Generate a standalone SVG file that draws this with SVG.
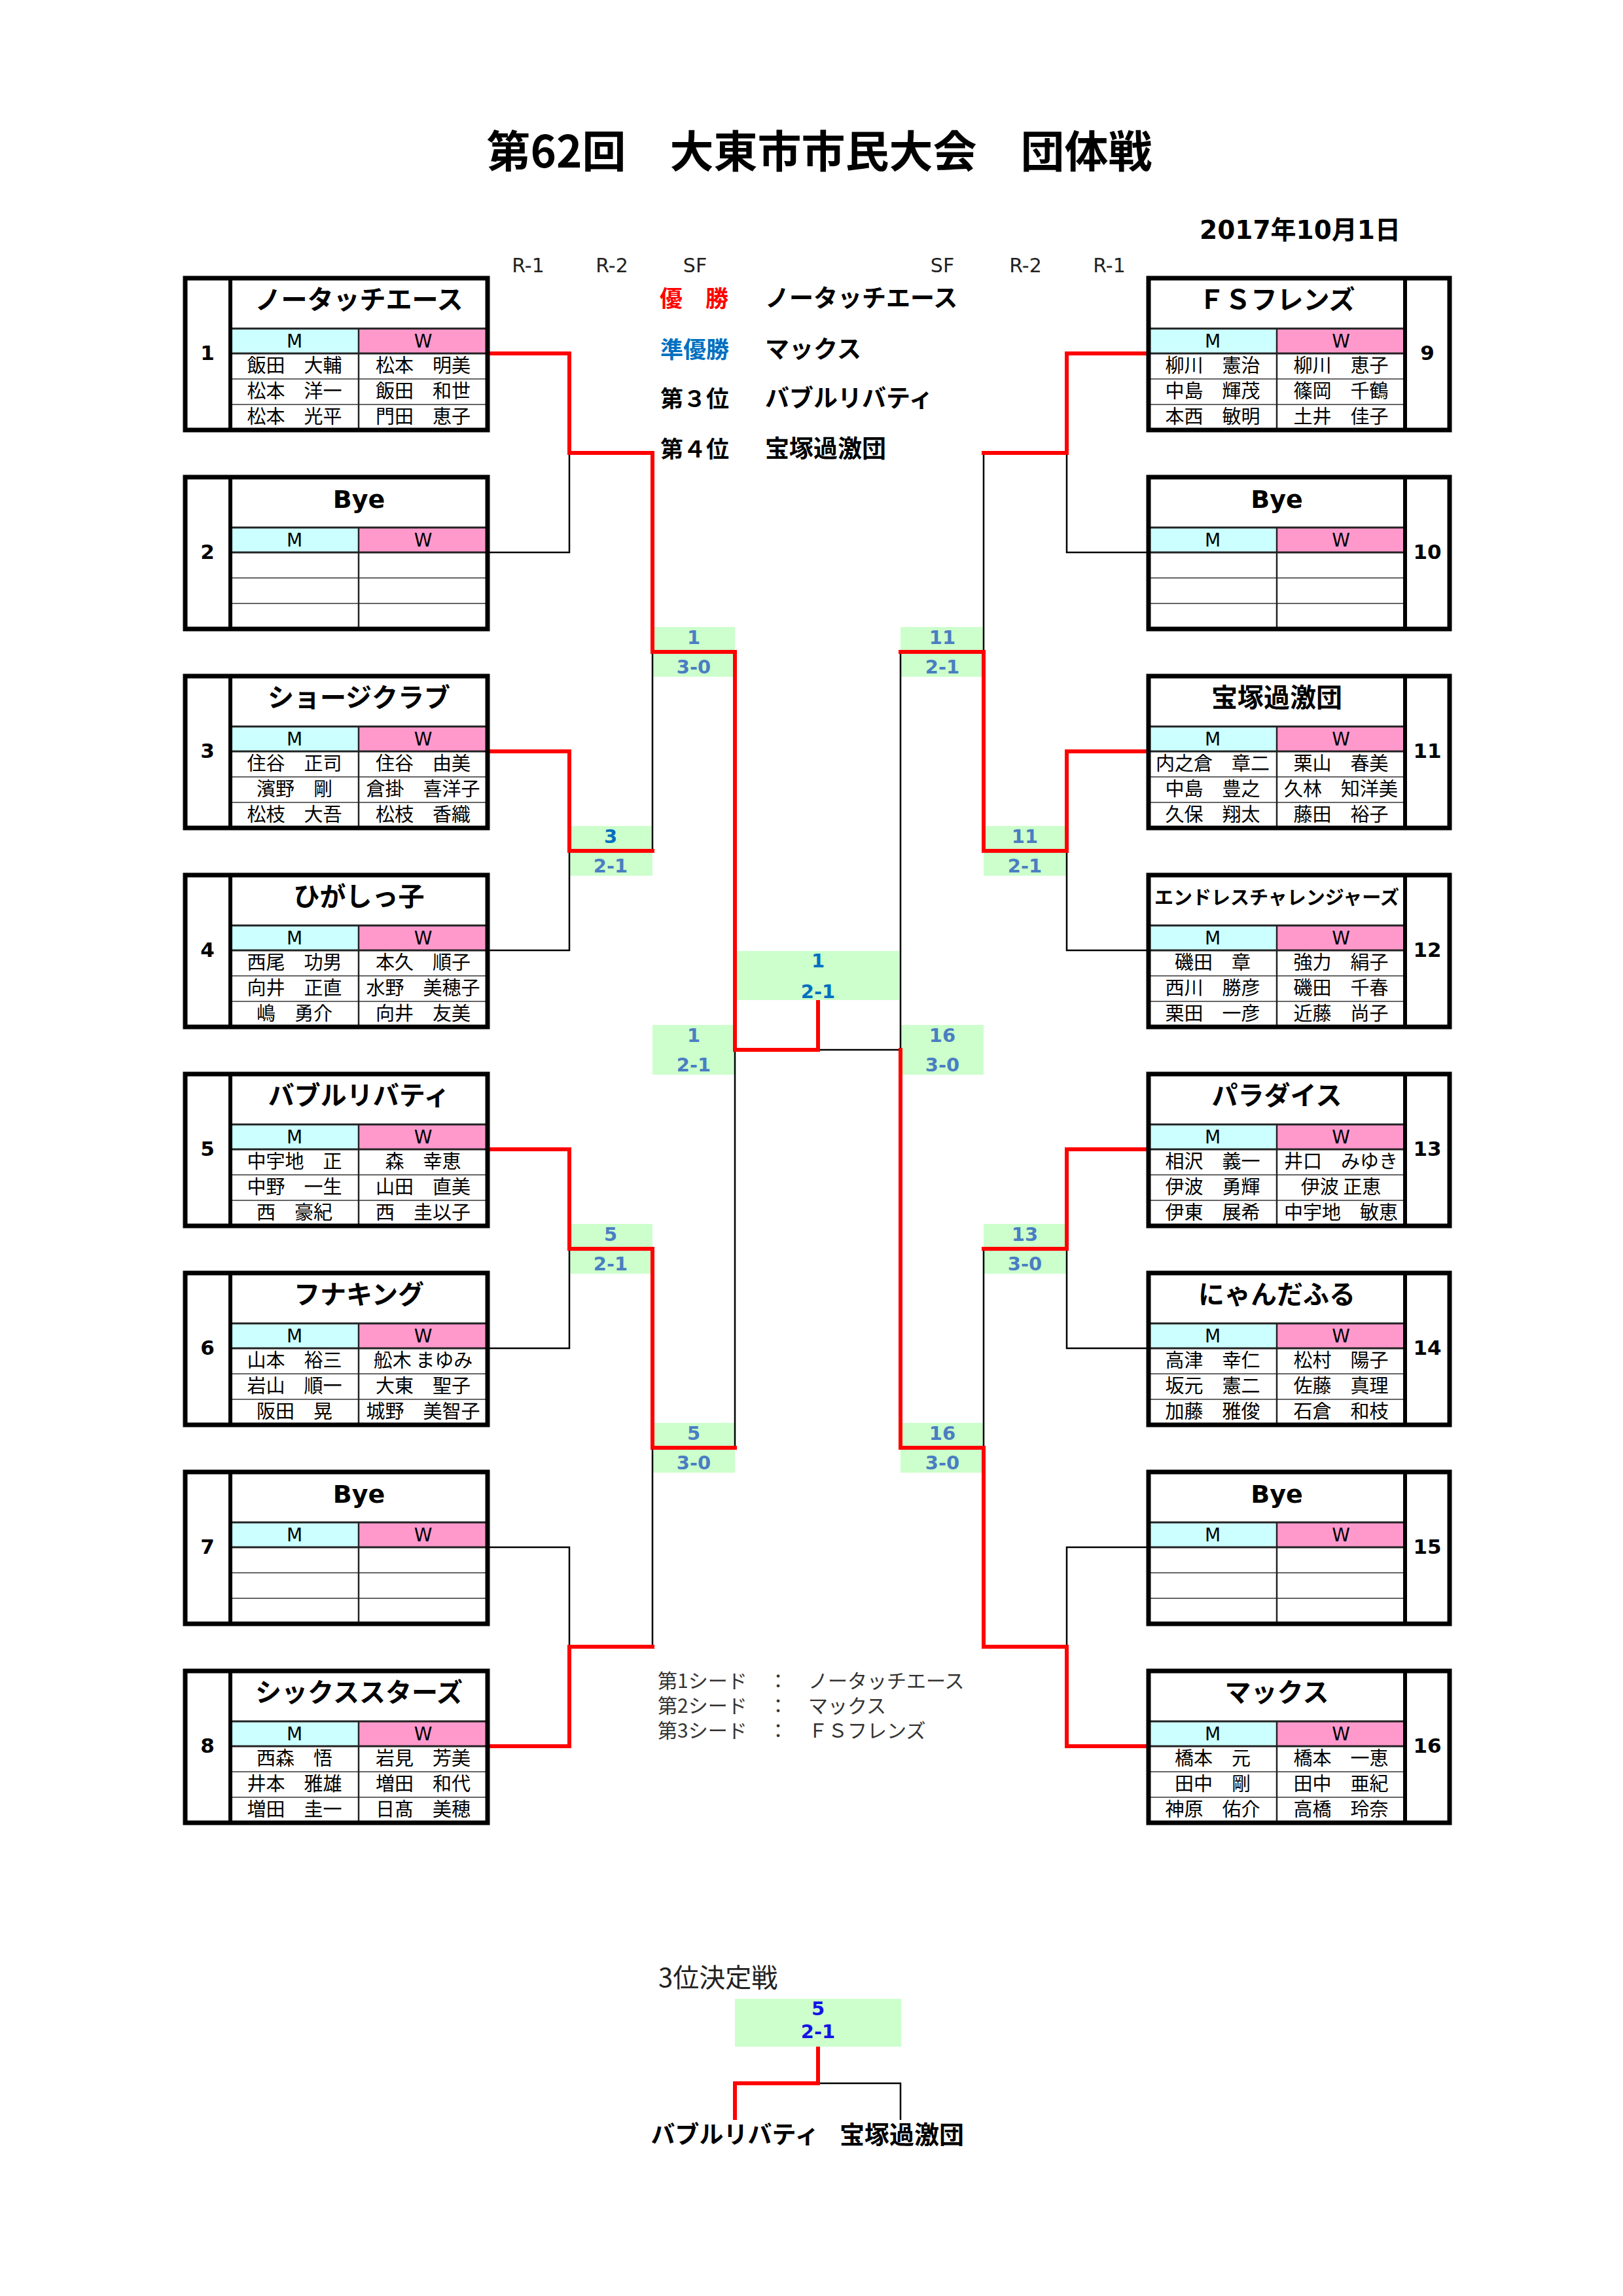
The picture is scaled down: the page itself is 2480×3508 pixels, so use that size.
<svg xmlns="http://www.w3.org/2000/svg" xmlns:xlink="http://www.w3.org/1999/xlink" width="2480" height="3508" viewBox="0 0 2480 3508">
<style>
.bg{fill:#fff}
.frame{fill:none;stroke:#000;stroke-width:7}
.numcol{stroke:#000;stroke-width:6}
.hline{stroke:#222;stroke-width:3}
.rline{stroke:#333;stroke-width:1.5}
.vdiv{stroke:#222;stroke-width:2.5}
.mh{fill:#ccffff}
.wh{fill:#ff99cc}
.ttl{font-family:"Noto Sans CJK JP",sans-serif;font-weight:700;font-size:40px;text-anchor:middle;fill:#000}
.ttls{font-family:"Noto Sans CJK JP",sans-serif;font-weight:700;font-size:29px;text-anchor:middle;fill:#000}
.bye{font-family:"DejaVu Sans","Noto Sans CJK JP",sans-serif;font-weight:700;font-size:38px;text-anchor:middle;fill:#000}
.num{font-family:"DejaVu Sans","Noto Sans CJK JP",sans-serif;font-weight:700;font-size:31px;text-anchor:middle;fill:#000}
.mw{font-family:"DejaVu Sans",sans-serif;font-size:28px;text-anchor:middle;fill:#000}
.nm{font-family:"Noto Sans CJK JP",sans-serif;font-size:29px;text-anchor:middle;fill:#000}
.sc{font-family:"DejaVu Sans",sans-serif;font-weight:700;font-size:29px;text-anchor:middle;fill:#4a7ec2}
.scf{font-family:"DejaVu Sans",sans-serif;font-weight:700;font-size:29px;text-anchor:middle;fill:#0070c0}
.sc3{font-family:"DejaVu Sans",sans-serif;font-weight:700;font-size:29px;text-anchor:middle;fill:#1414e6}
.sbox{fill:#ccffcc}
.blk{fill:none;stroke:#000;stroke-width:2.5}
.red{fill:none;stroke:#ff0000;stroke-width:6;stroke-linecap:square}
.rnd{font-family:"DejaVu Sans",sans-serif;font-size:30px;text-anchor:middle;fill:#222}
.res{font-family:"Noto Sans CJK JP",sans-serif;font-weight:700;font-size:35px;fill:#000}
.resn{font-family:"Noto Sans CJK JP",sans-serif;font-weight:700;font-size:37px;fill:#000}
.leg{font-family:"Noto Sans CJK JP",sans-serif;font-size:30px;fill:#333}
</style>
<defs>
<g id="frameL">
<rect x="0" y="0" width="462" height="232" fill="#fff"/>
<rect class="mh" x="69" y="77" width="196" height="38"/>
<rect class="wh" x="265" y="77" width="197" height="38"/>
<line class="rline" x1="69" y1="154" x2="462" y2="154"/>
<line class="rline" x1="69" y1="193" x2="462" y2="193"/>
<line class="vdiv" x1="265" y1="77" x2="265" y2="232"/>
<line class="hline" x1="69" y1="77" x2="462" y2="77"/>
<line class="hline" x1="69" y1="115" x2="462" y2="115"/>
<line class="numcol" x1="69" y1="0" x2="69" y2="232"/>
<rect class="frame" x="0" y="0" width="462" height="232"/>
<text class="mw" x="167" y="106">M</text>
<text class="mw" x="363.5" y="106">W</text>
</g>
<g id="frameR">
<rect x="0" y="0" width="460" height="232" fill="#fff"/>
<rect class="mh" x="0" y="77" width="196" height="38"/>
<rect class="wh" x="196" y="77" width="196" height="38"/>
<line class="rline" x1="0" y1="154" x2="392" y2="154"/>
<line class="rline" x1="0" y1="193" x2="392" y2="193"/>
<line class="vdiv" x1="196" y1="77" x2="196" y2="232"/>
<line class="hline" x1="0" y1="77" x2="392" y2="77"/>
<line class="hline" x1="0" y1="115" x2="392" y2="115"/>
<line class="numcol" x1="392" y1="0" x2="392" y2="232"/>
<rect class="frame" x="0" y="0" width="460" height="232"/>
<text class="mw" x="98" y="106">M</text>
<text class="mw" x="294" y="106">W</text>
</g>
</defs>
<rect class="bg" x="0" y="0" width="2480" height="3508"/>

<g id="header">
<text x="1252" y="256" font-family="Noto Sans CJK JP, sans-serif" font-weight="700" font-size="67" text-anchor="middle">第62回　大東市市民大会　団体戦</text>
<text x="2140" y="365" font-family="DejaVu Sans, Noto Sans CJK JP, sans-serif" font-weight="700" font-size="39" text-anchor="end">2017年10月1日</text>
<text class="rnd" x="807" y="416">R-1</text>
<text class="rnd" x="935" y="416">R-2</text>
<text class="rnd" x="1062" y="416">SF</text>
<text class="rnd" x="1440" y="416">SF</text>
<text class="rnd" x="1567" y="416">R-2</text>
<text class="rnd" x="1695" y="416">R-1</text>
</g>

<g id="results">
<text class="res" x="1008" y="469" style="fill:#ff0000">優　勝</text>
<text class="resn" x="1169" y="469">ノータッチエース</text>
<text class="res" x="1009" y="547" style="fill:#0070c0">準優勝</text>
<text class="resn" x="1169" y="547">マックス</text>
<text class="res" x="1009" y="622">第３位</text>
<text class="resn" x="1169" y="622">バブルリバティ</text>
<text class="res" x="1009" y="699">第４位</text>
<text class="resn" x="1169" y="699">宝塚過激団</text>
</g>

<g id="scores">
<rect class="sbox" x="870" y="1262" width="127" height="76"/>
<text class="scf" x="933" y="1288">3</text><text class="sc" x="933" y="1333">2-1</text>
<rect class="sbox" x="870" y="1870" width="127" height="76"/>
<text class="sc" x="933" y="1896">5</text><text class="sc" x="933" y="1941">2-1</text>
<rect class="sbox" x="997" y="958" width="126" height="76"/>
<text class="sc" x="1060" y="984">1</text><text class="sc" x="1060" y="1029">3-0</text>
<rect class="sbox" x="997" y="2174" width="126" height="76"/>
<text class="sc" x="1060" y="2200">5</text><text class="sc" x="1060" y="2245">3-0</text>
<rect class="sbox" x="997" y="1566" width="126" height="76"/>
<text class="sc" x="1060" y="1592">1</text><text class="sc" x="1060" y="1637">2-1</text>
<rect class="sbox" x="1126" y="1453" width="248" height="75"/>
<text class="scf" x="1250" y="1478">1</text><text class="scf" x="1250" y="1525">2-1</text>
<rect class="sbox" x="1503" y="1262" width="127" height="76"/>
<text class="sc" x="1566" y="1288">11</text><text class="sc" x="1566" y="1333">2-1</text>
<rect class="sbox" x="1503" y="1870" width="127" height="76"/>
<text class="sc" x="1566" y="1896">13</text><text class="sc" x="1566" y="1941">3-0</text>
<rect class="sbox" x="1376" y="958" width="127" height="76"/>
<text class="sc" x="1440" y="984">11</text><text class="sc" x="1440" y="1029">2-1</text>
<rect class="sbox" x="1376" y="2174" width="127" height="76"/>
<text class="sc" x="1440" y="2200">16</text><text class="sc" x="1440" y="2245">3-0</text>
<rect class="sbox" x="1376" y="1566" width="127" height="76"/>
<text class="sc" x="1440" y="1592">16</text><text class="sc" x="1440" y="1637">3-0</text>
</g>

<g id="connectors">
<polyline class="blk" points="745,844 870,844 870,692"/>
<polyline class="blk" points="745,1452 870,1452 870,1300"/>
<polyline class="blk" points="745,2060 870,2060 870,1908"/>
<polyline class="blk" points="745,2364 870,2364 870,2516"/>
<polyline class="blk" points="997,1300 997,996"/>
<polyline class="blk" points="997,2516 997,2212"/>
<polyline class="blk" points="1123,2212 1123,1604"/>
<polyline class="blk" points="1755,844 1630,844 1630,692"/>
<polyline class="blk" points="1755,1452 1630,1452 1630,1300"/>
<polyline class="blk" points="1755,2060 1630,2060 1630,1908"/>
<polyline class="blk" points="1755,2364 1630,2364 1630,2516"/>
<polyline class="blk" points="1503,692 1503,996"/>
<polyline class="blk" points="1503,1908 1503,2212"/>
<polyline class="blk" points="1376,996 1376,1604"/>
<polyline class="blk" points="1250,1604 1376,1604"/>
<polyline class="red" points="748,540 870,540 870,692 997,692 997,996 1123,996 1123,1604 1250,1604 1250,1531"/>
<polyline class="red" points="748,1148 870,1148 870,1300 997,1300"/>
<polyline class="red" points="748,1756 870,1756 870,1908 997,1908 997,2212 1123,2212"/>
<polyline class="red" points="748,2668 870,2668 870,2516 997,2516"/>
<polyline class="red" points="1752,540 1630,540 1630,692 1503,692"/>
<polyline class="red" points="1752,1148 1630,1148 1630,1300 1503,1300 1503,996 1376,996"/>
<polyline class="red" points="1752,1756 1630,1756 1630,1908 1503,1908"/>
<polyline class="red" points="1752,2668 1630,2668 1630,2516 1503,2516 1503,2212 1376,2212 1376,1604"/>
</g>

<g id="team1">
<use xlink:href="#frameL" href="#frameL" x="283" y="425"/>
<text class="num" x="317" y="550">1</text>
<text class="ttl" x="548.5" y="472">ノータッチエース</text>
<text class="nm" x="450" y="569">飯田　大輔</text><text class="nm" x="646.5" y="569">松本　明美</text>
<text class="nm" x="450" y="608">松本　洋一</text><text class="nm" x="646.5" y="608">飯田　和世</text>
<text class="nm" x="450" y="647">松本　光平</text><text class="nm" x="646.5" y="647">門田　恵子</text>
</g>
<g id="team2">
<use xlink:href="#frameL" href="#frameL" x="283" y="729"/>
<text class="num" x="317" y="854">2</text>
<text class="bye" x="548.5" y="776">Bye</text>
</g>
<g id="team3">
<use xlink:href="#frameL" href="#frameL" x="283" y="1033"/>
<text class="num" x="317" y="1158">3</text>
<text class="ttl" x="548.5" y="1080">ショージクラブ</text>
<text class="nm" x="450" y="1177">住谷　正司</text><text class="nm" x="646.5" y="1177">住谷　由美</text>
<text class="nm" x="450" y="1216">濱野　剛</text><text class="nm" x="646.5" y="1216">倉掛　喜洋子</text>
<text class="nm" x="450" y="1255">松枝　大吾</text><text class="nm" x="646.5" y="1255">松枝　香織</text>
</g>
<g id="team4">
<use xlink:href="#frameL" href="#frameL" x="283" y="1337"/>
<text class="num" x="317" y="1462">4</text>
<text class="ttl" x="548.5" y="1384">ひがしっ子</text>
<text class="nm" x="450" y="1481">西尾　功男</text><text class="nm" x="646.5" y="1481">本久　順子</text>
<text class="nm" x="450" y="1520">向井　正直</text><text class="nm" x="646.5" y="1520">水野　美穂子</text>
<text class="nm" x="450" y="1559">嶋　勇介</text><text class="nm" x="646.5" y="1559">向井　友美</text>
</g>
<g id="team5">
<use xlink:href="#frameL" href="#frameL" x="283" y="1641"/>
<text class="num" x="317" y="1766">5</text>
<text class="ttl" x="548.5" y="1688">バブルリバティ</text>
<text class="nm" x="450" y="1785">中宇地　正</text><text class="nm" x="646.5" y="1785">森　幸恵</text>
<text class="nm" x="450" y="1824">中野　一生</text><text class="nm" x="646.5" y="1824">山田　直美</text>
<text class="nm" x="450" y="1863">西　豪紀</text><text class="nm" x="646.5" y="1863">西　圭以子</text>
</g>
<g id="team6">
<use xlink:href="#frameL" href="#frameL" x="283" y="1945"/>
<text class="num" x="317" y="2070">6</text>
<text class="ttl" x="548.5" y="1992">フナキング</text>
<text class="nm" x="450" y="2089">山本　裕三</text><text class="nm" x="646.5" y="2089">舩木 まゆみ</text>
<text class="nm" x="450" y="2128">岩山　順一</text><text class="nm" x="646.5" y="2128">大東　聖子</text>
<text class="nm" x="450" y="2167">阪田　晃</text><text class="nm" x="646.5" y="2167">城野　美智子</text>
</g>
<g id="team7">
<use xlink:href="#frameL" href="#frameL" x="283" y="2249"/>
<text class="num" x="317" y="2374">7</text>
<text class="bye" x="548.5" y="2296">Bye</text>
</g>
<g id="team8">
<use xlink:href="#frameL" href="#frameL" x="283" y="2553"/>
<text class="num" x="317" y="2678">8</text>
<text class="ttl" x="548.5" y="2600">シックススターズ</text>
<text class="nm" x="450" y="2697">西森　悟</text><text class="nm" x="646.5" y="2697">岩見　芳美</text>
<text class="nm" x="450" y="2736">井本　雅雄</text><text class="nm" x="646.5" y="2736">増田　和代</text>
<text class="nm" x="450" y="2775">増田　圭一</text><text class="nm" x="646.5" y="2775">日髙　美穂</text>
</g>

<g id="team9">
<use xlink:href="#frameR" href="#frameR" x="1755" y="425"/>
<text class="num" x="2181" y="550">9</text>
<text class="ttl" x="1951" y="472">ＦＳフレンズ</text>
<text class="nm" x="1853" y="569">柳川　憲治</text><text class="nm" x="2049" y="569">柳川　恵子</text>
<text class="nm" x="1853" y="608">中島　輝茂</text><text class="nm" x="2049" y="608">篠岡　千鶴</text>
<text class="nm" x="1853" y="647">本西　敏明</text><text class="nm" x="2049" y="647">土井　佳子</text>
</g>
<g id="team10">
<use xlink:href="#frameR" href="#frameR" x="1755" y="729"/>
<text class="num" x="2181" y="854">10</text>
<text class="bye" x="1951" y="776">Bye</text>
</g>
<g id="team11">
<use xlink:href="#frameR" href="#frameR" x="1755" y="1033"/>
<text class="num" x="2181" y="1158">11</text>
<text class="ttl" x="1951" y="1080">宝塚過激団</text>
<text class="nm" x="1853" y="1177">内之倉　章二</text><text class="nm" x="2049" y="1177">栗山　春美</text>
<text class="nm" x="1853" y="1216">中島　豊之</text><text class="nm" x="2049" y="1216">久林　知洋美</text>
<text class="nm" x="1853" y="1255">久保　翔太</text><text class="nm" x="2049" y="1255">藤田　裕子</text>
</g>
<g id="team12">
<use xlink:href="#frameR" href="#frameR" x="1755" y="1337"/>
<text class="num" x="2181" y="1462">12</text>
<text class="ttls" x="1951" y="1382">エンドレスチャレンジャーズ</text>
<text class="nm" x="1853" y="1481">磯田　章</text><text class="nm" x="2049" y="1481">強力　絹子</text>
<text class="nm" x="1853" y="1520">西川　勝彦</text><text class="nm" x="2049" y="1520">磯田　千春</text>
<text class="nm" x="1853" y="1559">栗田　一彦</text><text class="nm" x="2049" y="1559">近藤　尚子</text>
</g>
<g id="team13">
<use xlink:href="#frameR" href="#frameR" x="1755" y="1641"/>
<text class="num" x="2181" y="1766">13</text>
<text class="ttl" x="1951" y="1688">パラダイス</text>
<text class="nm" x="1853" y="1785">相沢　義一</text><text class="nm" x="2049" y="1785">井口　みゆき</text>
<text class="nm" x="1853" y="1824">伊波　勇輝</text><text class="nm" x="2049" y="1824">伊波 正恵</text>
<text class="nm" x="1853" y="1863">伊東　展希</text><text class="nm" x="2049" y="1863">中宇地　敏恵</text>
</g>
<g id="team14">
<use xlink:href="#frameR" href="#frameR" x="1755" y="1945"/>
<text class="num" x="2181" y="2070">14</text>
<text class="ttl" x="1951" y="1992">にゃんだふる</text>
<text class="nm" x="1853" y="2089">高津　幸仁</text><text class="nm" x="2049" y="2089">松村　陽子</text>
<text class="nm" x="1853" y="2128">坂元　憲二</text><text class="nm" x="2049" y="2128">佐藤　真理</text>
<text class="nm" x="1853" y="2167">加藤　雅俊</text><text class="nm" x="2049" y="2167">石倉　和枝</text>
</g>
<g id="team15">
<use xlink:href="#frameR" href="#frameR" x="1755" y="2249"/>
<text class="num" x="2181" y="2374">15</text>
<text class="bye" x="1951" y="2296">Bye</text>
</g>
<g id="team16">
<use xlink:href="#frameR" href="#frameR" x="1755" y="2553"/>
<text class="num" x="2181" y="2678">16</text>
<text class="ttl" x="1951" y="2600">マックス</text>
<text class="nm" x="1853" y="2697">橋本　元</text><text class="nm" x="2049" y="2697">橋本　一恵</text>
<text class="nm" x="1853" y="2736">田中　剛</text><text class="nm" x="2049" y="2736">田中　亜紀</text>
<text class="nm" x="1853" y="2775">神原　佑介</text><text class="nm" x="2049" y="2775">高橋　玲奈</text>
</g>

<g id="legend">
<text class="leg" x="1005" y="2579">第1シード</text><text class="leg" x="1189" y="2579" text-anchor="middle">：</text><text class="leg" x="1235" y="2579">ノータッチエース</text>
<text class="leg" x="1005" y="2617">第2シード</text><text class="leg" x="1189" y="2617" text-anchor="middle">：</text><text class="leg" x="1235" y="2617">マックス</text>
<text class="leg" x="1005" y="2655">第3シード</text><text class="leg" x="1189" y="2655" text-anchor="middle">：</text><text class="leg" x="1235" y="2655">ＦＳフレンズ</text>
</g>

<g id="third-place">
<text x="1006" y="3036" font-family="Noto Sans CJK JP, sans-serif" font-size="40" fill="#222">3位決定戦</text>
<rect class="sbox" x="1123" y="3054" width="254" height="73"/>
<text class="sc3" x="1250" y="3079">5</text>
<text class="sc3" x="1250" y="3114">2-1</text>
<polyline class="blk" points="1250,3183 1376,3183 1376,3239"/>
<polyline class="red" points="1250,3130 1250,3183 1123,3183 1123,3236"/>
<text x="1123" y="3275" font-family="Noto Sans CJK JP, sans-serif" font-weight="700" font-size="37" text-anchor="middle">バブルリバティ</text>
<text x="1378" y="3275" font-family="Noto Sans CJK JP, sans-serif" font-weight="700" font-size="38" text-anchor="middle">宝塚過激団</text>
</g>
</svg>
